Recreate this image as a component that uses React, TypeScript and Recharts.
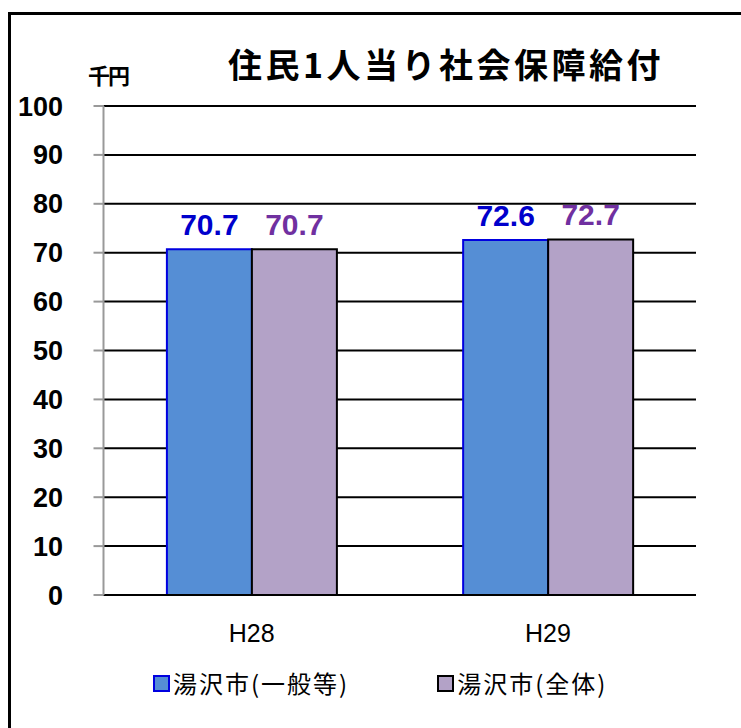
import React from "react";
import {
  BarChart,
  Bar,
  XAxis,
  YAxis,
  CartesianGrid,
  LabelList,
} from "recharts";

const years = ["H28", "H29"];
const generalValues = [70.7, 72.6];
const totalValues = [70.7, 72.7];
const yTicks = [0, 10, 20, 30, 40, 50, 60, 70, 80, 90, 100];
const categoryEdges = [0, 1, 2];
const seriesNames = ["湯沢市(一般等)", "湯沢市(全体)"];
const titleText = "住民1人当り社会保障給付";
const unitText = "千円";

const series = [
  { key: "general", name: seriesNames[0], fill: "#558ED5", stroke: "#0000E0", label: "#0000CC" },
  { key: "total", name: seriesNames[1], fill: "#B3A2C7", stroke: "#000000", label: "#7030A0" },
];

const data = years.map((y, i) => ({
  year: y,
  general: generalValues[i],
  total: totalValues[i],
}));

const numFont = "'Liberation Sans', Arial, sans-serif";
const cjkFont = "'Noto Sans CJK JP', 'Noto Sans', sans-serif";

export default function App() {
  return (
    <div
      style={{
        position: "absolute",
        left: 0,
        top: 0,
        width: 741,
        height: 728,
        overflow: "hidden",
        background: "#fff",
      }}
    >
      <div
        style={{
          position: "absolute",
          left: 8,
          top: 12,
          width: 800,
          height: 800,
          border: "3px solid #000",
        }}
      />
      <div
        style={{
          position: "absolute",
          left: 228,
          top: 44,
          fontFamily: cjkFont,
          fontWeight: 700,
          fontSize: 34,
          lineHeight: "40px",
          letterSpacing: 3.5,
          color: "#000",
          whiteSpace: "nowrap",
        }}
      >
        {titleText}
      </div>
      <div
        style={{
          position: "absolute",
          left: 88,
          top: 60,
          fontFamily: cjkFont,
          fontWeight: 700,
          fontSize: 22,
          lineHeight: "28px",
          letterSpacing: -2,
          color: "#000",
          whiteSpace: "nowrap",
        }}
      >
        {unitText}
      </div>
      <div style={{ position: "absolute", left: 0, top: 0 }}>
        <BarChart
          width={741}
          height={728}
          data={data}
          margin={{ top: 106, right: 45, bottom: 73, left: 43.5 }}
          barCategoryGap="21.4%"
          barGap={0}
        >
          <CartesianGrid vertical={false} stroke="#000" strokeWidth={2} />
          <XAxis
            xAxisId="edges"
            type="number"
            domain={[0, 2]}
            ticks={categoryEdges}
            height={0}
            axisLine={false}
            tickSize={8}
            tickLine={{ stroke: "#000", strokeWidth: 2 }}
            tickFormatter={() => ""}
            allowDataOverflow
          />
          <XAxis
            dataKey="year"
            height={60}
            axisLine={{ stroke: "#000", strokeWidth: 2 }}
            tickLine={false}
            tickSize={0}
            tickMargin={29}
            tick={{ fill: "#000", fontSize: 25, fontFamily: numFont }}
          />
          <YAxis
            width={60}
            domain={[0, 100]}
            ticks={yTicks}
            interval={0}
            axisLine={{ stroke: "#999", strokeWidth: 2 }}
            tickLine={{ stroke: "#999", strokeWidth: 2 }}
            tickSize={10}
            tickMargin={30.5}
            tick={{ fill: "#000", fontSize: 27, fontWeight: 700, fontFamily: numFont }}
          />
          <YAxis
            yAxisId="frame"
            orientation="right"
            width={0}
            domain={[0, 100]}
            tick={false}
            tickLine={false}
            axisLine={{ stroke: "#000", strokeWidth: 2 }}
          />
          {series.map((s) => (
            <Bar
              key={s.key}
              dataKey={s.key}
              name={s.name}
              fill={s.fill}
              stroke={s.stroke}
              strokeWidth={2}
              isAnimationActive={false}
            >
              <LabelList
                dataKey={s.key}
                position="top"
                offset={14}
                fill={s.label}
                fontSize={30}
                fontWeight={700}
                fontFamily={numFont}
                formatter={(v: number) => Number(v).toFixed(1)}
              />
            </Bar>
          ))}
        </BarChart>
      </div>
      <div
        style={{
          position: "absolute",
          left: 153,
          top: 668,
          height: 30,
          display: "flex",
          alignItems: "center",
          fontFamily: cjkFont,
          fontSize: 24,
          color: "#000",
          whiteSpace: "nowrap",
        }}
      >
        {series.map((s, i) => (
          <div
            key={s.key}
            style={{
              display: "flex",
              alignItems: "center",
              marginRight: i === 0 ? 88 : 0,
            }}
          >
            <div
              style={{
                width: 13,
                height: 13,
                background: s.fill,
                border: `2px solid ${s.stroke}`,
                marginRight: 3,
              }}
            />
            <span style={{ letterSpacing: 2, lineHeight: "30px" }}>{s.name}</span>
          </div>
        ))}
      </div>
    </div>
  );
}
